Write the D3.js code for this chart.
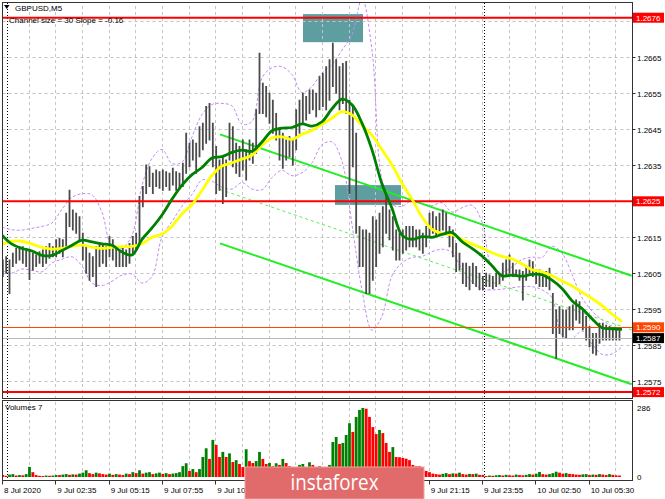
<!DOCTYPE html>
<html><head><meta charset="utf-8">
<script src="https://cdn.jsdelivr.net/npm/d3@7"></script>
<style>
html,body{margin:0;padding:0;background:#fff;}
svg{display:block;font-family:"Liberation Sans",Arial,sans-serif;}
</style></head><body>
<svg id="c" width="665" height="499"></svg>
<script>
// ---------- DATA ----------
const symbolTitle = "GBPUSD,M5";
const channelText = "Channel size = 30 Slope = -0.16";
const volumeTitle = "Volumes 7";
const watermarkText = "instaforex";

const timeLabels = ["8 Jul 2020","9 Jul 02:35","9 Jul 05:15","9 Jul 07:55","9 Jul 10:35","9 Jul 13:15",
  "9 Jul 15:55","9 Jul 18:35","9 Jul 21:15","9 Jul 23:55","10 Jul 02:50","10 Jul 05:30"];
const priceTicks = [1.2675,1.2665,1.2655,1.2645,1.2635,1.2625,1.2615,1.2605,1.2595,1.2585,1.2575];
const volumeTicks = [286, 0];
const daySeparators = [3, 289]; // bar index

// price bars, two M5 bars per entry
const high = [
1.26087,1.26096,1.26087,1.26106,1.26119,1.26124,1.26124,1.26119,1.26115,1.26106,
1.26101,1.26110,1.26115,1.26124,1.26133,1.26124,1.26143,1.26147,1.26143,1.26217,
1.26281,1.26226,1.26217,1.26207,1.26161,1.26124,1.26106,1.26096,1.26124,1.26133,
1.26133,1.26124,1.26152,1.26143,1.26124,1.26115,1.26124,1.26115,1.26133,1.26152,
1.26161,1.26263,1.26291,1.26351,1.26346,1.26328,1.26337,1.26332,1.26337,1.26332,
1.26328,1.26342,1.26332,1.26328,1.26356,1.26439,1.26411,1.26420,1.26411,1.26457,
1.26467,1.26513,1.26522,1.26467,1.26402,1.26365,1.26374,1.26365,1.26467,1.26457,
1.26411,1.26402,1.26420,1.26393,1.26420,1.26411,1.26504,1.26661,1.26578,1.26569,
1.26550,1.26531,1.26494,1.26448,1.26439,1.26420,1.26430,1.26420,1.26504,1.26531,
1.26550,1.26541,1.26559,1.26559,1.26550,1.26596,1.26606,1.26624,1.26643,1.26689,
1.26643,1.26624,1.26633,1.26638,1.26531,1.26513,1.26439,1.26180,1.26170,1.26170,
1.26161,1.26207,1.26198,1.26217,1.26235,1.26272,1.26226,1.26207,1.26170,1.26161,
1.26170,1.26180,1.26180,1.26180,1.26170,1.26170,1.26161,1.26180,1.26217,1.26221,
1.26207,1.26217,1.26226,1.26217,1.26180,1.26170,1.26133,1.26106,1.26078,1.26078,
1.26069,1.26078,1.26069,1.26050,1.26041,1.26050,1.26045,1.26041,1.26050,1.26050,
1.26078,1.26087,1.26101,1.26078,1.26059,1.26059,1.26055,1.26069,1.26087,1.26082,
1.26059,1.26059,1.26050,1.26055,1.26064,1.25994,1.25948,1.25957,1.25948,1.25948,
1.25957,1.25962,1.25976,1.25971,1.25948,1.25930,1.25902,1.25883,1.25883,1.25911,
1.25911,1.25906,1.25902,1.25897,1.25897,1.25893];
const low = [
1.26041,1.26050,1.25994,1.26069,1.26078,1.26087,1.26078,1.26069,1.26033,1.26059,
1.26069,1.26078,1.26069,1.26078,1.26092,1.26096,1.26096,1.26106,1.26096,1.26124,
1.26180,1.26170,1.26161,1.26143,1.26087,1.26050,1.26031,1.26041,1.26013,1.26069,
1.26078,1.26069,1.26096,1.26087,1.26069,1.26069,1.26069,1.26069,1.26078,1.26106,
1.26115,1.26133,1.26235,1.26272,1.26291,1.26272,1.26291,1.26286,1.26281,1.26291,
1.26281,1.26295,1.26281,1.26286,1.26291,1.26328,1.26346,1.26365,1.26328,1.26374,
1.26393,1.26411,1.26420,1.26346,1.26272,1.26281,1.26244,1.26263,1.26365,1.26346,
1.26328,1.26319,1.26337,1.26309,1.26365,1.26356,1.26383,1.26494,1.26494,1.26485,
1.26467,1.26439,1.26420,1.26365,1.26342,1.26365,1.26374,1.26351,1.26393,1.26439,
1.26467,1.26476,1.26494,1.26504,1.26485,1.26504,1.26513,1.26504,1.26531,1.26569,
1.26550,1.26504,1.26522,1.26494,1.26272,1.26346,1.26161,1.26069,1.26069,1.25994,
1.25994,1.26031,1.26069,1.26106,1.26124,1.26161,1.26143,1.26115,1.26087,1.26087,
1.26106,1.26115,1.26124,1.26124,1.26124,1.26115,1.26106,1.26124,1.26152,1.26161,
1.26152,1.26161,1.26170,1.26161,1.26124,1.26096,1.26055,1.26059,1.26022,1.26013,
1.26004,1.26022,1.26013,1.26004,1.26004,1.26013,1.26013,1.26008,1.26013,1.26022,
1.26031,1.26041,1.26050,1.26041,1.26041,1.26031,1.25976,1.26031,1.26050,1.26041,
1.26022,1.26013,1.26013,1.26013,1.26004,1.25883,1.25814,1.25883,1.25874,1.25869,
1.25893,1.25893,1.25920,1.25911,1.25893,1.25865,1.25846,1.25828,1.25823,1.25856,
1.25865,1.25865,1.25865,1.25865,1.25865,1.25865];
const volume = [
8,5,10,12,6,8,7,12,42,20, 8,5,4,6,5,6,8,8,10,12, 9,11,10,14,18,28,16,12,18,15,
12,10,14,9,12,10,8,14,12,20, 16,28,14,18,20,12,15,18,13,16, 12,14,16,20,45,57,25,33,20,33,
83,119,75,154,133,83,104,83,98,62, 70,54,41,115,66,58,66,104,75,54, 58,45,57,50,75,58,45,41,40,50,
54,41,61,50,40,45,41,37,50,145, 166,137,141,174,223,187,249,278,286,283, 249,207,178,195,182,141,104,124,83,82,
79,76,70,50,45,45,29,25,20,14, 12,10,13,16,12,15,14,18,12,10, 13,12,14,9,8,4,6,5,7,8,
6,9,7,6,10,8,7,9,12,10, 14,21,12,10,12,16,22,18,14,16, 13,12,10,9,11,12,8,10,9,12,
10,8,12,9,7,6];

// indicator lines, one value every 6 bars
const maGreen = [1.26156,1.26131,1.26119,1.26112,1.26100,1.26100,1.26113,1.26128,1.26142,1.26137,
 1.26132,1.26128,1.26109,1.26101,1.26144,1.26176,1.26212,1.26256,1.26295,1.26324,
 1.26344,1.26370,1.26374,1.26386,1.26392,1.26389,1.26415,1.26446,1.26453,1.26455,
 1.26465,1.26459,1.26471,1.26507,1.26534,1.26518,1.26467,1.26393,1.26298,1.26231,
 1.26156,1.26144,1.26152,1.26150,1.26158,1.26163,1.26138,1.26119,1.26098,1.26071,
 1.26043,1.26045,1.26042,1.26047,1.26046,1.26031,1.26008,1.25974,1.25952,1.25924,
 1.25899,1.25896,1.25894];
const maYellow = [1.26131,1.26139,1.26139,1.26131,1.26122,1.26117,1.26119,1.26125,1.26128,1.26123,
 1.26119,1.26122,1.26124,1.26125,1.26132,1.26150,1.26159,1.26181,1.26215,1.26241,
 1.26280,1.26322,1.26348,1.26357,1.26367,1.26378,1.26406,1.26426,1.26429,1.26422,
 1.26436,1.26447,1.26464,1.26481,1.26499,1.26490,1.26461,1.26434,1.26393,1.26351,
 1.26300,1.26256,1.26207,1.26172,1.26161,1.26157,1.26144,1.26131,1.26120,1.26107,
 1.26097,1.26090,1.26076,1.26060,1.26054,1.26043,1.26029,1.26015,1.25997,1.25980,
 1.25960,1.25937,1.25916];
const bandUpper = [1.26178,1.26171,1.26170,1.26175,1.26180,1.26190,1.26228,1.26261,1.26271,1.26268,
 1.26219,1.26124,1.26120,1.26156,1.26294,1.26369,1.26394,1.26355,1.26359,1.26429,
 1.26491,1.26519,1.26522,1.26515,1.26464,1.26472,1.26593,1.26621,1.26624,1.26602,
 1.26552,1.26569,1.26607,1.26630,1.26670,1.26713,1.26814,1.26670,1.26309,1.26241,
 1.26236,1.26253,1.26244,1.26238,1.26246,1.26220,1.26232,1.26239,1.26192,1.26067,
 1.26053,1.26068,1.26088,1.26095,1.26094,1.26125,1.26106,1.26047,1.25982,1.25945,
 1.25921,1.25903,1.25893];
const bandLower = [1.26057,1.26051,1.26062,1.26058,1.26054,1.26079,1.26089,1.26096,1.26070,1.26023,
 1.26016,1.26028,1.26045,1.26048,1.26023,1.26041,1.26151,1.26194,1.26236,1.26269,
 1.26309,1.26306,1.26289,1.26284,1.26302,1.26284,1.26282,1.26316,1.26336,1.26321,
 1.26329,1.26357,1.26407,1.26415,1.26361,1.26185,1.26004,1.25892,1.25931,1.26043,
 1.26079,1.26094,1.26097,1.26110,1.26117,1.26108,1.26060,1.26027,1.26006,1.26004,
 1.26006,1.26010,1.26013,1.26013,1.26004,1.25982,1.25878,1.25869,1.25890,1.25854,
 1.25825,1.25826,1.25846];

// channel (bar index, price)
const channelUpper = [[130.8, 1.26436], [377.8, 1.26043]];
const channelMiddle = [[130.8, 1.26283], [377.8, 1.25893]];
const channelLower = [[130.8, 1.26133], [377.8, 1.25742]];

// levels
const redLevels = [1.2676, 1.2625, 1.2572];
const orangeLevel = 1.2590;
const bidLevel = 1.2587;

// rectangles: [barFrom, barTo, priceLow, priceHigh]
const zones = [[180.6, 216.6, 1.26692, 1.26770], [199.8, 239.4, 1.26240, 1.26295]];

// ---------- DRAW ----------
const svg = d3.select("#c");
const W = 665, H = 499;
const plotL = 2.5, plotR = 632.5, mainT = 2.5, mainB = 398.5, volT = 400.5, volB = 480.5;
const wm = {x: 245, y: 467, w: 179, h: 32};

const x = d3.scaleLinear().domain([0, 378]).range([2, 632]);
const y = d3.scaleLinear().domain([1.2570, 1.2680]).range([399.3, 3.3]);
const yv = d3.scaleLinear().domain([0, 286]).range([477, 408]);

svg.append("rect").attr("width", W).attr("height", H).attr("fill", "#fff");

const defs = svg.append("defs");
defs.append("clipPath").attr("id", "clipMain").append("rect")
  .attr("x", plotL).attr("y", mainT).attr("width", plotR - plotL).attr("height", mainB - mainT);
defs.append("clipPath").attr("id", "clipVol").append("rect")
  .attr("x", plotL).attr("y", volT).attr("width", plotR - plotL).attr("height", volB - volT);
defs.append("clipPath").attr("id", "clipTime").append("rect")
  .attr("x", 0).attr("y", volB).attr("width", wm.x).attr("height", H - volB);

const gMain = svg.append("g").attr("clip-path", "url(#clipMain)");
const gVol = svg.append("g").attr("clip-path", "url(#clipVol)");

// zones
gMain.selectAll("rect.zone").data(zones).join("rect")
  .attr("x", d => x(d[0])).attr("width", d => x(d[1]) - x(d[0]))
  .attr("y", d => y(d[3])).attr("height", d => y(d[2]) - y(d[3]))
  .attr("fill", "#5F9EA0");

// grid
const gridColor = "#c4c4c4";
const vGrid = d3.range(0, 378, 16);
gMain.selectAll("line.hg").data(priceTicks).join("line")
  .attr("x1", plotL).attr("x2", plotR).attr("y1", d => Math.round(y(d)) + 0.5).attr("y2", d => Math.round(y(d)) + 0.5)
  .attr("stroke", gridColor).attr("stroke-dasharray", "3,3");
[gMain, gVol].forEach(g => {
  g.selectAll("line.vg").data(vGrid).join("line")
    .attr("x1", d => Math.round(x(d)) + 0.5).attr("x2", d => Math.round(x(d)) + 0.5)
    .attr("y1", 0).attr("y2", H)
    .attr("stroke", gridColor).attr("stroke-dasharray", "3,3");
  g.selectAll("line.sep").data(daySeparators).join("line")
    .attr("x1", d => Math.round(x(d)) + 0.5).attr("x2", d => Math.round(x(d)) + 0.5)
    .attr("y1", 0).attr("y2", H)
    .attr("stroke", "#000").attr("stroke-dasharray", "1,2");
});

// bands
const kx = (d, k) => x(6 * k);
const lineGen = d3.line().x(kx).y(d => y(d)).curve(d3.curveCatmullRom.alpha(0.5));
[bandUpper, bandLower].forEach(b => {
  gMain.append("path").attr("d", lineGen(b)).attr("fill", "none")
    .attr("stroke", "#c08cf0").attr("stroke-width", 1).attr("stroke-dasharray", "3,2");
});

// channel
const chLine = d3.line().x(d => x(d[0])).y(d => y(d[1]));
gMain.append("path").attr("d", chLine(channelMiddle)).attr("fill", "none")
  .attr("stroke", "#55ee55").attr("stroke-width", 1).attr("stroke-dasharray", "3,3");
[channelUpper, channelLower].forEach(c => {
  gMain.append("path").attr("d", chLine(c)).attr("fill", "none")
    .attr("stroke", "#22ee22").attr("stroke-width", 2);
});

// price bars
gMain.selectAll("line.bar").data(high).join("line")
  .attr("x1", (d, j) => x(2 * j + 0.5)).attr("x2", (d, j) => x(2 * j + 0.5))
  .attr("y1", d => y(d) - 0.5).attr("y2", (d, j) => Math.max(y(low[j]) + 0.5, y(d) + 1.5))
  .attr("stroke", "#4a4a4a").attr("stroke-width", 1.8);

// horizontal levels
gMain.selectAll("line.lvl").data(redLevels).join("line")
  .attr("x1", plotL).attr("x2", plotR).attr("y1", d => y(d)).attr("y2", d => y(d))
  .attr("stroke", "#ff0000").attr("stroke-width", 2);
gMain.append("line").attr("x1", plotL).attr("x2", plotR)
  .attr("y1", Math.round(y(orangeLevel)) + 0.5).attr("y2", Math.round(y(orangeLevel)) + 0.5)
  .attr("stroke", "#ff4500").attr("stroke-width", 1);
gMain.append("line").attr("x1", plotL).attr("x2", plotR)
  .attr("y1", Math.round(y(bidLevel)) + 0.5).attr("y2", Math.round(y(bidLevel)) + 0.5)
  .attr("stroke", "#b8b8b8").attr("stroke-width", 1);

// moving averages
gMain.append("path").attr("d", lineGen(maYellow)).attr("fill", "none")
  .attr("stroke", "#ffff00").attr("stroke-width", 2.8).attr("stroke-linejoin", "round");
gMain.append("path").attr("d", lineGen(maGreen)).attr("fill", "none")
  .attr("stroke", "#008000").attr("stroke-width", 2.8).attr("stroke-linejoin", "round");

// volumes
gVol.selectAll("rect.v").data(volume).join("rect")
  .attr("x", (d, j) => x(2 * j + 0.5) - 1.4).attr("width", 2.8)
  .attr("y", d => yv(d)).attr("height", d => yv(0) - yv(d))
  .attr("fill", (d, j) => (j > 0 && d > volume[j - 1]) ? "#008000" : "#ff0000");

// frames
const frame = svg.append("g").attr("fill", "none").attr("stroke", "#333").attr("stroke-width", 1);
frame.append("rect").attr("x", plotL).attr("y", mainT).attr("width", plotR - plotL).attr("height", mainB - mainT);
frame.append("rect").attr("x", plotL).attr("y", volT).attr("width", plotR - plotL).attr("height", volB - volT);

// level label boxes (drawn values)
const boxes = [
  {v: redLevels[0], c: "#ff0000"}, {v: redLevels[1], c: "#ff0000"},
  {v: orangeLevel, c: "#ff4500"}, {v: bidLevel, c: "#000000"}, {v: redLevels[2], c: "#ff0000"}];

// price axis: tick labels fully hidden beneath a level box are not shown
const axisG = svg.append("g").attr("font-size", 8).attr("fill", "#000");
axisG.selectAll("line.pt").data(priceTicks).join("line")
  .attr("x1", plotR).attr("x2", plotR + 3).attr("y1", d => Math.round(y(d)) + 0.5).attr("y2", d => Math.round(y(d)) + 0.5)
  .attr("stroke", "#333");
const freeTicks = priceTicks.filter(t => boxes.every(b => Math.abs(y(b.v) - y(t)) > 6));
axisG.selectAll("text.pt").data(freeTicks).join("text")
  .attr("x", 637).attr("y", d => y(d) + 3.5).text(d => d.toFixed(4));

// volume axis
axisG.selectAll("text.vt").data(volumeTicks).join("text")
  .attr("x", 637).attr("y", d => yv(d) + 3).text(d => d);

const bg = svg.append("g").attr("font-size", 8);
boxes.forEach(b => {
  const cy = y(b.v);
  bg.append("rect").attr("x", 633).attr("y", cy - 5).attr("width", 31).attr("height", 10).attr("fill", b.c);
  bg.append("text").attr("x", 636).attr("y", cy + 3).attr("fill", "#fff").text(b.v.toFixed(4));
});

// time axis (labels hidden behind the watermark are clipped away)
const tg = svg.append("g").attr("font-size", 8).attr("fill", "#000");
tg.selectAll("line.tt").data(timeLabels).join("line")
  .attr("x1", (d, i) => Math.round(x(32 * i)) + 0.5).attr("x2", (d, i) => Math.round(x(32 * i)) + 0.5)
  .attr("y1", volB).attr("y2", volB + 4).attr("stroke", "#333");
const visibleLabels = timeLabels.map((d, i) => ({d, i})).filter(o => {
  const lx = x(32 * o.i) + 2;
  return lx < wm.x || lx > wm.x + wm.w;
});
tg.selectAll("text.tl").data(visibleLabels).join("text")
  .attr("x", o => x(32 * o.i) + 2).attr("y", 493)
  .attr("clip-path", o => (x(32 * o.i) + 2 < wm.x) ? "url(#clipTime)" : null)
  .text(o => o.d);

// titles
svg.append("path").attr("d", "M4,5 L9.5,5 L6.75,9 Z").attr("fill", "#000");
svg.append("text").attr("x", 15).attr("y", 11).attr("font-size", 8).text(symbolTitle);
svg.append("text").attr("x", 9).attr("y", 23).attr("font-size", 8).text(channelText);
svg.append("text").attr("x", 5).attr("y", 410).attr("font-size", 8).text(volumeTitle);

// watermark
svg.append("rect").attr("x", wm.x).attr("y", wm.y).attr("width", wm.w).attr("height", wm.h)
  .attr("fill", "#e16b6b").attr("stroke", "#f0a0a0").attr("stroke-width", 1);
svg.append("text").attr("x", wm.x + wm.w / 2).attr("y", 490).attr("text-anchor", "middle")
  .attr("font-family", "'Open Sans', sans-serif").attr("font-size", 21).attr("fill", "#fff")
  .attr("textLength", 88).attr("lengthAdjust", "spacingAndGlyphs").text(watermarkText);
</script>
</body></html>
